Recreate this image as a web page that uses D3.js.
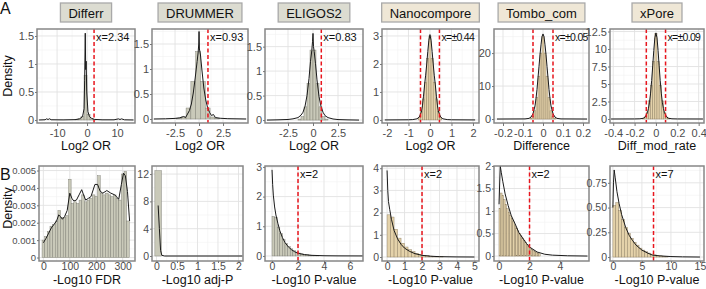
<!DOCTYPE html>
<html lang="en">
<head>
<meta charset="utf-8">
<title>Cutoff distributions</title>
<script src="https://cdn.jsdelivr.net/npm/d3@7"></script>
<style>
  body { margin: 0; background: #fff; }
  svg { display: block; font-family: "Liberation Sans", Arial, sans-serif; }
</style>
</head>
<body>
<script>
// ---- data ----
const methods = ["Differr", "DRUMMER", "ELIGOS2", "Nanocompore", "Tombo_com", "xPore"];
const xTitlesA = ["Log2 OR", "Log2 OR", "Log2 OR", "Log2 OR", "Difference", "Diff_mod_rate"];
const xTitlesB = ["-Log10 FDR", "-Log10 adj-P", "-Log10 P-value", "-Log10 P-value", "-Log10 P-value", "-Log10 P-value"];

const cutoffsA = [[2.34], [0.93], [0.83], [-0.44, 0.44], [-0.05, 0.05], [-0.09, 0.09]];
const cutoffTextA = ["x=2.34", "x=0.93", "x=0.83", "x=±0.44", "x=±0.05", "x=±0.09"];
const cutoffsB = [[], [], [2], [2], [2], [7]];
const cutoffTextB = ["", "", "x=2", "x=2", "x=2", "x=7"];

const xDomainA = [[-16.7, 16], [-4.9, 5.1], [-4.8, 5.0], [-2.23, 2.28], [-0.245, 0.23], [-0.43, 0.45]];
const yDomainA = [[-0.054, 1.625], [-0.08, 1.8], [-0.06, 1.86], [-0.11, 3.25], [-1.2, 27.3], [-0.57, 12.86]];
const xDomainB = [[-16.5, 346.5], [-0.11, 2.11], [-0.54, 7.0], [-0.29, 5.26], [-0.33, 5.9], [-0.5, 15.7]];
const yDomainB = [[-0.0002, 0.00526], [-0.73, 13.18], [-0.17, 3.03], [-0.18, 4.1], [-0.11, 2.0], [-0.04, 0.92]];

const xTicksA = [["-10", "0", "10"], ["-2.5", "0", "2.5"], ["-2.5", "0", "2.5"], ["-2", "-1", "0", "1", "2"],
  ["-0.2", "-0.1", "0", "0.1", "0.2"], ["-0.4", "-0.2", "0", "0.2", "0.4"]];
const yTicksA = [["0", "0.5", "1", "1.5"], ["0", "0.5", "1", "1.5"], ["0", "0.5", "1", "1.5"], ["0", "1", "2", "3"],
  ["0", "10", "20"], ["0", "2.5", "5", "7.5", "10", "12.5"]];
const xTicksB = [["0", "100", "200", "300"], ["0", "0.5", "1", "1.5", "2"], ["0", "2", "4", "6"],
  ["0", "1", "2", "3", "4", "5"], ["0", "2", "4"], ["0", "5", "10", "15"]];
const yTicksB = [["0", "0.001", "0.002", "0.003", "0.004", "0.005"], ["0", "4", "8", "12"], ["0", "1", "2", "3"],
  ["0", "1", "2", "3", "4"], ["0", "0.5", "1", "1.5", "2"], ["0", "0.25", "0.50", "0.75"]];

const binWidthA = [1, 0.5, 0.3, 0.1, 0.01, 0.02];
const binWidthB = [10, 0.16, 0.2, 0.2, 0.1, 0.5];

// histograms: [bin centre, density]; curves: [x, density]
const differrHist = [[-3.5, 0.005], [-2.5, 0.02], [-1.5, 0.06], [-0.5, 0.8], [0.5, 0.1], [1.5, 0.02], [2.5, 0.005]];
const differrCurve = [[-16, 0], [-14, 0.004], [-13.5, 0.02], [-13, 0.008], [-12.5, 0.022], [-12, 0.004], [-8, 0.002],
  [-4, 0.006], [-2.5, 0.02], [-1.5, 0.06], [-1, 0.2], [-0.8, 0.7], [-0.6, 1.55], [-0.45, 0.9], [-0.3, 1.05],
  [-0.1, 0.5], [0.3, 0.15], [0.8, 0.06], [1.5, 0.03], [2.5, 0.01], [5, 0.003], [9, 0.003], [10.5, 0.02],
  [11, 0.008], [11.5, 0.02], [12.5, 0.003], [15.5, 0]];

const drummerHist = [[-2.1, 0.01], [-1.6, 0.04], [-1.1, 0.22], [-0.6, 0.75], [-0.1, 1.35], [0.4, 0.75], [0.9, 0.22],
  [1.4, 0.04], [1.9, 0.01]];
const drummerCurve = [[-4.7, 0], [-3.5, 0.004], [-2.5, 0.012], [-2, 0.025], [-1.6, 0.05], [-1.4, 0.03], [-1.2, 0.1],
  [-1, 0.17], [-0.8, 0.3], [-0.6, 0.52], [-0.4, 0.82], [-0.2, 1.15], [-0.1, 1.32], [-0.03, 1.5], [0, 1.75],
  [0.04, 1.4], [0.15, 1.28], [0.3, 0.98], [0.5, 0.62], [0.7, 0.38], [0.9, 0.22], [1.1, 0.13], [1.3, 0.07],
  [1.5, 0.09], [1.7, 0.03], [2.2, 0.015], [3, 0.006], [4.9, 0]];

const eligosHist = [[-1.35, 0.02], [-1.05, 0.07], [-0.75, 0.27], [-0.45, 0.75], [-0.15, 1.43], [0.15, 1.43],
  [0.45, 0.75], [0.75, 0.27], [1.05, 0.07], [1.35, 0.02]];
const eligosCurve = [[-4.6, 0], [-3.5, 0.005], [-2.5, 0.012], [-2, 0.025], [-1.5, 0.05], [-1.2, 0.1], [-1, 0.16],
  [-0.8, 0.28], [-0.6, 0.5], [-0.4, 0.85], [-0.25, 1.2], [-0.12, 1.42], [-0.05, 1.6], [0, 1.77], [0.05, 1.5],
  [0.12, 1.4], [0.25, 1.15], [0.4, 0.82], [0.6, 0.48], [0.8, 0.28], [1, 0.16], [1.2, 0.09], [1.5, 0.05],
  [2, 0.022], [2.5, 0.01], [3.5, 0.004], [4.6, 0]];

const nanoHist = [[-0.5, 0.08], [-0.4, 0.3], [-0.3, 0.75], [-0.2, 1.35], [-0.1, 2.2], [0, 3.0], [0.1, 2.2],
  [0.2, 1.35], [0.3, 0.75], [0.4, 0.3], [0.5, 0.08]];
const nanoCurve = [[-2.1, 0], [-1, 0.005], [-0.8, 0.012], [-0.6, 0.04], [-0.5, 0.1], [-0.4, 0.28], [-0.35, 0.5],
  [-0.3, 0.85], [-0.25, 1.25], [-0.2, 1.6], [-0.15, 2.0], [-0.1, 2.45], [-0.05, 2.85], [0, 3.05], [0.05, 2.85],
  [0.1, 2.45], [0.15, 2.0], [0.2, 1.6], [0.25, 1.25], [0.3, 0.85], [0.35, 0.5], [0.4, 0.28], [0.5, 0.1],
  [0.6, 0.04], [0.8, 0.012], [1, 0.005], [2.1, 0]];

const tomboHist = [[-0.06, 0.2], [-0.05, 0.8], [-0.04, 2.5], [-0.03, 6.5], [-0.02, 13], [-0.01, 20], [0, 25],
  [0.01, 20], [0.02, 13], [0.03, 6.5], [0.04, 2.5], [0.05, 0.8], [0.06, 0.2]];
const tomboCurve = [[-0.23, 0], [-0.09, 0.04], [-0.07, 0.2], [-0.06, 0.6], [-0.05, 1.6], [-0.04, 4], [-0.035, 6.2],
  [-0.03, 9], [-0.025, 12.5], [-0.02, 16], [-0.015, 19.5], [-0.01, 22.5], [-0.005, 25], [0, 25.8], [0.005, 25],
  [0.01, 22.5], [0.015, 19.5], [0.02, 16], [0.025, 12.5], [0.03, 9], [0.035, 6.2], [0.04, 4], [0.05, 1.6],
  [0.06, 0.6], [0.07, 0.2], [0.09, 0.04], [0.22, 0]];

const xporeHist = [[-0.12, 0.08], [-0.1, 0.3], [-0.08, 1.0], [-0.06, 2.6], [-0.04, 4.8], [-0.02, 8.2], [0, 12.2],
  [0.02, 8.2], [0.04, 4.8], [0.06, 2.6], [0.08, 1.0], [0.1, 0.3], [0.12, 0.08]];
const xporeCurve = [[-0.42, 0], [-0.2, 0.01], [-0.15, 0.03], [-0.12, 0.1], [-0.1, 0.3], [-0.08, 0.9], [-0.07, 1.5],
  [-0.06, 2.4], [-0.05, 3.7], [-0.04, 5.5], [-0.03, 7.6], [-0.02, 9.8], [-0.01, 11.6], [0, 12.3], [0.01, 11.6],
  [0.02, 9.8], [0.03, 7.6], [0.04, 5.5], [0.05, 3.7], [0.06, 2.4], [0.07, 1.5], [0.08, 0.9], [0.1, 0.3],
  [0.12, 0.1], [0.15, 0.03], [0.2, 0.01], [0.44, 0]];

const fdrHist = [[0, 0.0010], [10, 0.0012], [20, 0.0015], [30, 0.0018], [40, 0.0019], [50, 0.0021], [60, 0.0027],
  [70, 0.0023], [80, 0.0023], [90, 0.0024], [100, 0.0045], [110, 0.0031], [120, 0.0032], [130, 0.0031],
  [140, 0.0033], [150, 0.0036], [160, 0.0032], [170, 0.0033], [180, 0.0034], [190, 0.0036], [200, 0.0035],
  [210, 0.0047], [220, 0.0037], [230, 0.0036], [240, 0.0037], [250, 0.0036], [260, 0.0035], [270, 0.0036],
  [280, 0.0034], [290, 0.0033], [300, 0.0048], [310, 0.00495], [320, 0.0021]];
const fdrCurve = [[0, 0.00085], [10, 0.0011], [20, 0.0014], [30, 0.0017], [40, 0.0019], [50, 0.0021], [58, 0.00245],
  [65, 0.00235], [72, 0.0022], [80, 0.00235], [90, 0.0027], [100, 0.0037], [108, 0.0034], [115, 0.00325],
  [125, 0.0033], [135, 0.0036], [145, 0.0039], [152, 0.0036], [160, 0.0033], [170, 0.0034], [180, 0.0035],
  [195, 0.0042], [205, 0.0042], [215, 0.0038], [225, 0.0037], [240, 0.00385], [255, 0.0037], [270, 0.0036],
  [285, 0.00335], [295, 0.0042], [303, 0.00485], [310, 0.0047], [318, 0.0038], [326, 0.0021]];

const adjpHist = [[0.04, 12.5]];
const adjpCurve = [[0.04, 7.4], [0.07, 4], [0.1, 0.8], [0.13, 0.1], [0.2, 0], [2.1, 0]];

const eligosPHist = [[0.1, 1.33], [0.3, 1.3], [0.5, 0.95], [0.7, 0.75], [0.9, 0.55], [1.1, 0.42], [1.3, 0.32],
  [1.5, 0.24], [1.7, 0.18], [1.9, 0.13], [2.1, 0.1], [2.3, 0.07], [2.5, 0.05], [2.7, 0.04], [2.9, 0.03],
  [3.1, 0.02], [3.3, 0.015], [3.5, 0.01]];
const eligosPCurve = [[0, 2.9], [0.05, 2.4], [0.1, 2.05], [0.2, 1.65], [0.3, 1.38], [0.45, 1.1], [0.6, 0.85],
  [0.8, 0.62], [1, 0.45], [1.25, 0.31], [1.5, 0.21], [1.75, 0.14], [2, 0.09], [2.5, 0.045], [3, 0.022],
  [4, 0.007], [5, 0.003], [7, 0]];

const nanoPHist = [[0.1, 1.9], [0.3, 1.8], [0.5, 1.25], [0.7, 0.85], [0.9, 0.62], [1.1, 0.45], [1.3, 0.33],
  [1.5, 0.24], [1.7, 0.17], [1.9, 0.12], [2.1, 0.08], [2.3, 0.06], [2.5, 0.04], [2.7, 0.03], [2.9, 0.02],
  [3.1, 0.015]];
const nanoPCurve = [[0, 3.9], [0.04, 3.0], [0.08, 2.5], [0.15, 2.15], [0.25, 1.7], [0.4, 1.2], [0.6, 0.82],
  [0.8, 0.57], [1, 0.4], [1.3, 0.25], [1.6, 0.15], [2, 0.075], [2.5, 0.035], [3, 0.016], [4, 0.004], [5, 0]];

const tomboPHist = [[0.05, 1.05], [0.15, 1.4], [0.25, 1.35], [0.35, 1.25], [0.45, 1.15], [0.55, 1.05], [0.65, 0.97],
  [0.75, 0.9], [0.85, 0.83], [0.95, 0.76], [1.05, 0.69], [1.15, 0.62], [1.25, 0.56], [1.35, 0.5], [1.45, 0.45],
  [1.55, 0.4], [1.65, 0.35], [1.75, 0.3], [1.85, 0.26], [1.95, 0.22], [2.05, 0.18], [2.15, 0.15], [2.25, 0.12],
  [2.35, 0.1], [2.45, 0.08], [2.55, 0.065], [2.65, 0.05]];
const tomboPCurve = [[0, 1.15], [0.04, 1.6], [0.08, 2.0], [0.15, 1.85], [0.25, 1.65], [0.4, 1.38], [0.6, 1.12],
  [0.8, 0.9], [1.1, 0.68], [1.3, 0.52], [1.55, 0.4], [1.8, 0.28], [2, 0.2], [2.5, 0.09], [3, 0.04], [3.5, 0.02],
  [4.5, 0.006], [5.8, 0]];

const xporePHist = [[0.25, 0.52], [0.75, 0.55], [1.25, 0.47], [1.75, 0.38], [2.25, 0.3], [2.75, 0.24], [3.25, 0.19],
  [3.75, 0.15], [4.25, 0.12], [4.75, 0.09], [5.25, 0.07], [5.75, 0.055], [6.25, 0.04], [6.75, 0.03],
  [7.25, 0.022], [7.75, 0.016], [8.25, 0.012], [8.75, 0.008], [9.25, 0.006]];
const xporePCurve = [[0, 0.5], [0.1, 0.75], [0.22, 0.88], [0.4, 0.8], [0.7, 0.66], [1.07, 0.54], [1.5, 0.43],
  [2.2, 0.3], [2.8, 0.22], [3.35, 0.17], [4, 0.12], [5, 0.07], [6, 0.04], [6.8, 0.02], [8, 0.012], [10, 0.005],
  [12, 0.002], [15, 0]];

const histsA = [differrHist, drummerHist, eligosHist, nanoHist, tomboHist, xporeHist];
const curvesA = [differrCurve, drummerCurve, eligosCurve, nanoCurve, tomboCurve, xporeCurve];
const histsB = [fdrHist, adjpHist, eligosPHist, nanoPHist, tomboPHist, xporePHist];
const curvesB = [fdrCurve, adjpCurve, eligosPCurve, nanoPCurve, tomboPCurve, xporePCurve];

// ---- layout ----
const W = 706, H = 289;
const colsA = [[37, 135], [152, 248], [265, 363], [382, 479], [494, 589], [610, 704]];
const colsB = [[39, 135], [152, 243], [265, 363], [382, 479], [494, 589], [610, 704]];
const rowA = [29, 123], rowB = [166, 261];

const grayFill = "#c9c9b9", grayEdge = "#7e7e74";
const beigeFill = "#e4d2aa", beigeEdge = "#8f7f62";

const svg = d3.select("body").append("svg")
  .attr("width", W)
  .attr("height", H);

let clipId = 0;

function panel(p) {
  const x = d3.scaleLinear().domain(p.xDom).range(p.cols);
  const y = d3.scaleLinear().domain(p.yDom).range([p.rows[1], p.rows[0]]);
  const g = svg.append("g");
  const id = "clip" + (clipId++);

  g.append("clipPath").attr("id", id)
    .append("rect")
    .attr("x", p.cols[0]).attr("y", p.rows[0])
    .attr("width", p.cols[1] - p.cols[0]).attr("height", p.rows[1] - p.rows[0]);

  const xv = p.xTicks.map(Number), yv = p.yTicks.map(Number);
  const mid = v => d3.pairs(v).map(([a, b]) => (a + b) / 2);
  const xMinor = mid(xv), yMinor = mid(yv);
  const xStep = xv[1] - xv[0], yStep = yv[1] - yv[0];
  xMinor.push(xv[0] - xStep / 2, xv[xv.length - 1] + xStep / 2);
  yMinor.push(yv[yv.length - 1] + yStep / 2);

  const grid = g.append("g").attr("clip-path", `url(#${id})`);
  grid.selectAll(".vmin").data(xMinor).join("line")
    .attr("x1", d => x(d)).attr("x2", d => x(d))
    .attr("y1", p.rows[0]).attr("y2", p.rows[1])
    .attr("stroke", "#f1f1f1").attr("stroke-width", 0.6);
  grid.selectAll(".hmin").data(yMinor).join("line")
    .attr("y1", d => y(d)).attr("y2", d => y(d))
    .attr("x1", p.cols[0]).attr("x2", p.cols[1])
    .attr("stroke", "#f1f1f1").attr("stroke-width", 0.6);
  grid.selectAll(".vmaj").data(xv).join("line")
    .attr("x1", d => x(d)).attr("x2", d => x(d))
    .attr("y1", p.rows[0]).attr("y2", p.rows[1])
    .attr("stroke", "#e2e2e2").attr("stroke-width", 0.9);
  grid.selectAll(".hmaj").data(yv).join("line")
    .attr("y1", d => y(d)).attr("y2", d => y(d))
    .attr("x1", p.cols[0]).attr("x2", p.cols[1])
    .attr("stroke", "#e2e2e2").attr("stroke-width", 0.9);

  const plot = g.append("g").attr("clip-path", `url(#${id})`);

  plot.selectAll("rect.bar").data(p.hist).join("rect")
    .attr("class", "bar")
    .attr("x", d => x(d[0] - p.bw / 2))
    .attr("width", d => x(d[0] + p.bw / 2) - x(d[0] - p.bw / 2))
    .attr("y", d => y(d[1]))
    .attr("height", d => y(0) - y(d[1]))
    .attr("fill", p.beige ? beigeFill : grayFill)
    .attr("stroke", p.beige ? beigeEdge : grayEdge)
    .attr("stroke-width", 0.45);

  plot.append("path")
    .datum(p.curve)
    .attr("d", d3.line().x(d => x(d[0])).y(d => y(d[1])))
    .attr("fill", "none")
    .attr("stroke", "#1a1a1a")
    .attr("stroke-width", 1);

  plot.selectAll("line.cut").data(p.cut).join("line")
    .attr("class", "cut")
    .attr("x1", d => x(d)).attr("x2", d => x(d))
    .attr("y1", p.rows[0]).attr("y2", p.rows[1])
    .attr("stroke", "#e8161e")
    .attr("stroke-width", 1.5)
    .attr("stroke-dasharray", "4,2.5");

  if (p.cut.length) {
    const t = g.append("text")
      .attr("x", x(d3.max(p.cut)) + 2)
      .attr("y", p.rows[0] + 12)
      .style("font-size", "11px")
      .attr("fill", "#111")
      .text(p.cutText);
    if (p.cutText.includes("±")) t.style("font-size", "10.5px").style("letter-spacing", "-0.7px");
  }

  g.append("rect")
    .attr("x", p.cols[0]).attr("y", p.rows[0])
    .attr("width", p.cols[1] - p.cols[0]).attr("height", p.rows[1] - p.rows[0])
    .attr("fill", "none")
    .attr("stroke", "#878787")
    .attr("stroke-width", 1.5);

  const styleAxis = size => a => {
    a.select(".domain").remove();
    a.selectAll(".tick line").attr("stroke", "#777");
    a.selectAll(".tick text").attr("fill", "#4d4d4d").style("font-size", size + "px")
      .style("font-family", "'Liberation Sans', Arial, sans-serif");
  };

  g.append("g")
    .attr("transform", `translate(0,${p.rows[1]})`)
    .call(d3.axisBottom(x).tickValues(xv).tickFormat((d, i) => p.xTicks[i]).tickSize(p.tickGap).tickPadding(p.tickPad))
    .call(styleAxis(p.xFont));

  g.append("g")
    .attr("transform", `translate(${p.cols[0]},0)`)
    .call(d3.axisLeft(y).tickValues(yv).tickFormat((d, i) => p.yTicks[i]).tickSize(2).tickPadding(1))
    .call(styleAxis(p.yFont));

  g.append("text")
    .attr("x", (p.cols[0] + p.cols[1]) / 2)
    .attr("y", p.titleY)
    .attr("text-anchor", "middle")
    .style("font-size", "12.5px")
    .attr("fill", "#111")
    .text(p.title);
}

methods.forEach((m, i) => {
  panel({
    cols: colsA[i], rows: rowA, xDom: xDomainA[i], yDom: yDomainA[i],
    xTicks: xTicksA[i], yTicks: yTicksA[i], hist: histsA[i], bw: binWidthA[i], curve: curvesA[i],
    cut: cutoffsA[i], cutText: cutoffTextA[i], title: xTitlesA[i], titleY: 150,
    beige: i >= 3, tickGap: 3, tickPad: 3, xFont: 11, yFont: 11
  });
  panel({
    cols: colsB[i], rows: rowB, xDom: xDomainB[i], yDom: yDomainB[i],
    xTicks: xTicksB[i], yTicks: yTicksB[i], hist: histsB[i], bw: binWidthB[i], curve: curvesB[i],
    cut: cutoffsB[i], cutText: cutoffTextB[i], title: xTitlesB[i], titleY: 284,
    beige: i >= 3, tickGap: 2, tickPad: 0, xFont: 10.5, yFont: i === 0 ? 9.5 : 10.5
  });

  // method strip above the top row
  const cx = (colsA[i][0] + colsA[i][1]) / 2;
  const strip = svg.append("g");
  const box = strip.append("rect");
  const label = strip.append("text")
    .attr("x", cx).attr("y", 17.5)
    .attr("text-anchor", "middle")
    .style("font-size", "13px")
    .attr("fill", "#111")
    .text(m);
  const w = label.node().getComputedTextLength() + 16;
  box.attr("x", cx - w / 2).attr("y", 3)
    .attr("width", w).attr("height", 19)
    .attr("fill", i >= 3 ? "#efe7d6" : "#dcdcd1")
    .attr("stroke", "#a9a9a9")
    .attr("stroke-width", 1.3);
});

// row labels and shared y titles
svg.append("text").attr("x", 0).attr("y", 14).style("font-size", "16px").attr("fill", "#111").text("A");
svg.append("text").attr("x", 0).attr("y", 180).style("font-size", "16px").attr("fill", "#111").text("B");

[[76, "Density"], [208, "Density"]].forEach(([cy, t]) => {
  svg.append("text")
    .attr("transform", `translate(11.5,${cy}) rotate(-90)`)
    .attr("text-anchor", "middle")
    .style("font-size", "12.5px")
    .attr("fill", "#111")
    .text(t);
});
</script>
</body>
</html>
